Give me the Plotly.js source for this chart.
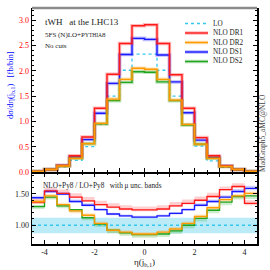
<!DOCTYPE html>
<html><head><meta charset="utf-8">
<script src="https://cdn.plot.ly/plotly-3.0.1.min.js"></script>
<style>html,body{margin:0;padding:0;background:#fff}#c{width:270px;height:270px}</style>
</head><body><div id="c"></div>
<script>
// ---- data ----
const binEdges = [-4.5,-4,-3.5,-3,-2.5,-2,-1.5,-1,-0.5,0,0.5,1,1.5,2,2.5,3,3.5,4,4.5];
const loVals  = [0.01,0.04,0.10,0.23,0.50,0.94,1.50,2.01,2.33,2.33,2.01,1.50,0.94,0.51,0.22,0.09,0.04,0.01];
const dr1Vals = [0.01,0.05,0.13,0.32,0.69,1.26,1.93,2.54,2.89,2.91,2.54,1.92,1.26,0.68,0.32,0.12,0.05,0.01];
const dr2Vals = [0.01,0.05,0.12,0.27,0.56,0.96,1.44,1.83,2.05,2.03,1.83,1.42,0.94,0.55,0.27,0.11,0.05,0.01];
const ds1Vals = [0.01,0.05,0.13,0.30,0.64,1.16,1.75,2.32,2.64,2.62,2.31,1.78,1.17,0.63,0.29,0.12,0.05,0.01];
const ds2Vals = [0.01,0.05,0.12,0.27,0.56,0.95,1.41,1.77,1.98,1.97,1.78,1.41,0.93,0.55,0.27,0.11,0.05,0.01];
const loRatio  = [1,1,1,1,1,1,1,1,1,1,1,1,1,1,1,1,1,1];
const loBandHi = [1.12,1.12,1.12,1.12,1.12,1.12,1.12,1.12,1.12,1.12,1.12,1.12,1.12,1.12,1.12,1.12,1.12,1.12];
const loBandLo = [0.87,0.87,0.87,0.87,0.87,0.87,0.87,0.87,0.87,0.87,0.87,0.87,0.87,0.87,0.87,0.87,0.87,0.87];
const dr1Ratio = [1.37,1.55,1.51,1.45,1.39,1.33,1.29,1.26,1.245,1.245,1.26,1.31,1.35,1.40,1.46,1.57,1.62,1.35];
const dr1Hi    = [1.42,1.60,1.57,1.51,1.45,1.39,1.35,1.32,1.30,1.30,1.32,1.37,1.41,1.46,1.52,1.62,1.67,1.40];
const dr1Lo    = [1.34,1.53,1.49,1.43,1.37,1.31,1.27,1.24,1.225,1.225,1.24,1.29,1.33,1.38,1.44,1.55,1.60,1.32];
const ds1Ratio = [1.44,1.54,1.50,1.38,1.32,1.25,1.18,1.15,1.13,1.13,1.15,1.19,1.25,1.32,1.38,1.45,1.54,1.59];
const ds1Hi    = [1.47,1.57,1.53,1.41,1.35,1.27,1.20,1.17,1.15,1.15,1.17,1.21,1.27,1.35,1.41,1.48,1.58,1.63];
const ds1Lo    = [1.42,1.52,1.48,1.36,1.30,1.23,1.16,1.13,1.11,1.11,1.13,1.17,1.23,1.30,1.36,1.43,1.52,1.56];
const dr2Ratio = [1.38,1.47,1.33,1.23,1.16,1.03,0.92,0.89,0.86,0.86,0.89,0.94,1.03,1.14,1.28,1.41,1.47,1.51];
const dr2Hi    = [1.41,1.50,1.36,1.26,1.19,1.06,0.95,0.92,0.89,0.89,0.92,0.97,1.06,1.17,1.31,1.44,1.50,1.54];
const dr2Lo    = [1.34,1.43,1.29,1.19,1.12,0.99,0.88,0.85,0.82,0.82,0.85,0.90,0.99,1.10,1.24,1.37,1.43,1.47];
const ds2Ratio = [1.30,1.45,1.31,1.25,1.12,1.02,0.92,0.88,0.85,0.85,0.86,0.91,1.00,1.11,1.24,1.37,1.46,1.47];
const ds2Hi    = [1.31,1.46,1.32,1.26,1.13,1.03,0.93,0.89,0.86,0.86,0.87,0.92,1.01,1.12,1.25,1.38,1.47,1.48];
const ds2Lo    = [1.26,1.41,1.27,1.21,1.08,0.97,0.87,0.83,0.80,0.80,0.81,0.86,0.95,1.06,1.19,1.32,1.41,1.42];
const seriesNames = ['LO','NLO DR1','NLO DR2','NLO DS1','NLO DS2'];
const xTickVals = [-4,-3,-2,-1,0,1,2,3,4];
const xTickText = ['-4','','-2','','0','','2','','4'];
const yTopTicks = [0,0.5,1,1.5,2,2.5,3];
const yTopText  = ['0.0','0.5','1.0','1.5','2.0','2.5','3.0'];
const yRatTicks = [1.0,1.5];
const yRatText  = ['1.00','1.50'];

const colLO='#33c8ec', colDR1='#ff1a1a', colDR2='#ff9900', colDS1='#1a1aff', colDS2='#1fa51f';
const bandLO='rgba(120,215,240,0.5)', bandDR1='rgba(255,80,80,0.28)', bandDR2='rgba(255,170,50,0.28)',
      bandDS1='rgba(90,90,255,0.28)', bandDS2='rgba(60,180,60,0.25)';
const FONT='Liberation Serif, Times New Roman, serif';
const TX='x2', TY='y2', RX='x', RY='y';

function st(v){ return v.concat([v[v.length-1]]); }
const traces=[];
function line(vals,color,width,dash,xa,ya,opacity){
  traces.push({type:'scatter',mode:'lines',x:binEdges,y:st(vals),xaxis:xa,yaxis:ya,
    line:{shape:'hv',color:color,width:width,dash:dash||'solid'},opacity:opacity==null?1:opacity,
    hoverinfo:'skip',showlegend:false});
}
function band(lo,hi,fill){
  traces.push({type:'scatter',mode:'lines',x:binEdges,y:st(lo),xaxis:RX,yaxis:RY,
    line:{shape:'hv',width:0},hoverinfo:'skip',showlegend:false});
  traces.push({type:'scatter',mode:'lines',x:binEdges,y:st(hi),xaxis:RX,yaxis:RY,fill:'tonexty',
    fillcolor:fill,line:{shape:'hv',width:0},hoverinfo:'skip',showlegend:false});
}
band(loBandLo,loBandHi,bandLO);
band(dr1Lo,dr1Hi,bandDR1); band(ds1Lo,ds1Hi,bandDS1); band(dr2Lo,dr2Hi,bandDR2); band(ds2Lo,ds2Hi,bandDS2);
line(loRatio,colLO,1.3,'dot',RX,RY);
line(ds1Ratio,colDS1,1.4,'solid',RX,RY);
line(ds2Ratio,colDS2,1.4,'solid',RX,RY);
line(dr1Ratio,colDR1,1.4,'solid',RX,RY);
line(dr2Ratio,colDR2,1.4,'solid',RX,RY);
line(loVals,colLO,1.3,'dot',TX,TY);
[[ds1Vals,colDS1],[ds2Vals,colDS2],[dr1Vals,colDR1],[dr2Vals,colDR2]].forEach(([v,c])=>{
  line(v,c,3.5,'solid',TX,TY,0.3); line(v,c,1.4,'solid',TX,TY);
});

const ML=32, MR=13, MT=8, MB=26, W=270, H=270;
const px=x=>(x-ML)/(W-ML-MR), py=y=>(H-MB-y)/(H-MT-MB);

const ann=[
  {text:'tWH&nbsp;&nbsp;&nbsp;at the LHC13',x:px(43),y:py(22),size:9},
  {text:'5FS (N)LO+P<span style="font-size:5.5px">YTHIA</span>8',x:px(43),y:py(35),size:7},
  {text:'No cuts',x:px(43),y:py(46),size:7},
  {text:'NLO+Py8 / LO+Py8&nbsp;&nbsp; with μ unc. bands',x:px(41),y:py(185),size:7.3}
].map(a=>({text:a.text,x:a.x,y:a.y,xref:'paper',yref:'paper',xanchor:'left',yanchor:'middle',
  showarrow:false,font:{family:FONT,size:a.size,color:'#222'}}));
ann.push({text:'MadGraph5_aMC@NLO',x:px(262),y:py(133),xref:'paper',yref:'paper',textangle:-90,
  showarrow:false,xanchor:'center',yanchor:'middle',font:{family:FONT,size:7.5,color:'#444'}});
ann.push({text:'dσ/dη(j<sub>b,1</sub>)&nbsp;&nbsp;&nbsp;[fb/bin]',x:px(10),y:py(85),xref:'paper',yref:'paper',textangle:-90,
  showarrow:false,xanchor:'center',yanchor:'middle',font:{family:FONT,size:8.5,color:'#0000ff'}});

const shapes=[{type:'line',xref:'paper',yref:'paper',x0:0,x1:1,y0:1,y1:1,line:{color:'#8a8a8a',width:2.5}}];
const legCols=[colLO,colDR1,colDR2,colDS1,colDS2];
seriesNames.forEach((n,i)=>{
  const yy=py(23.5+9.5*i);
  if(i>0) shapes.push({type:'line',xref:'paper',yref:'paper',x0:px(185),x1:px(208),y0:yy,y1:yy,
    line:{color:legCols[i],width:3.5},opacity:0.3});
  shapes.push({type:'line',xref:'paper',yref:'paper',x0:px(185),x1:px(208),y0:yy,y1:yy,
    line:{color:legCols[i],width:1.4,dash:i==0?'dot':'solid'}});
  ann.push({text:n,x:px(211),y:yy,xref:'paper',yref:'paper',xanchor:'left',yanchor:'middle',
    showarrow:false,font:{family:FONT,size:7.2,color:'#222'}});
});

const tickFont={family:FONT,size:8,color:'#222'};
const layout={
  width:W,height:H,margin:{l:ML,r:MR,t:MT,b:MB},paper_bgcolor:'#fff',plot_bgcolor:'#fff',
  showlegend:false,font:{family:FONT},
  xaxis:{domain:[0,1],anchor:'y',range:[-4.5,4.5],tickvals:xTickVals,ticktext:xTickText,ticks:'inside',ticklen:4,
    tickcolor:'#000',showline:true,linecolor:'#000',linewidth:1.5,mirror:'allticks',showgrid:false,zeroline:false,
    tickfont:tickFont,
    minor:{ticks:'inside',dtick:0.5,ticklen:2,tickcolor:'#000',showgrid:false},
    title:{text:'η(j<sub>b,1</sub>)',font:{family:FONT,size:9,color:'#222'},standoff:2}},
  yaxis:{domain:[0,py(173)],anchor:'x',range:[0.70,1.835],tickvals:yRatTicks,ticktext:yRatText,ticks:'inside',ticklen:4,
    tickcolor:'#000',showline:true,linecolor:'#000',linewidth:1.5,mirror:'allticks',showgrid:false,zeroline:false,
    tickfont:tickFont,
    minor:{ticks:'inside',dtick:0.1,tick0:0,ticklen:2,tickcolor:'#000',showgrid:false}},
  xaxis2:{domain:[0,1],anchor:'y2',range:[-4.5,4.5],showticklabels:false,ticks:'inside',tickvals:xTickVals,
    ticklen:4,tickcolor:'#000',showline:true,linecolor:'#000',linewidth:1.8,mirror:false,showgrid:false,zeroline:false,
    minor:{ticks:'inside',dtick:0.5,ticklen:2,tickcolor:'#000',showgrid:false}},
  yaxis2:{domain:[py(172),1],anchor:'x2',range:[0,3.24],tickvals:yTopTicks,ticktext:yTopText,ticks:'inside',ticklen:4,
    tickcolor:'#000',showline:true,linecolor:'#000',linewidth:1.5,mirror:'allticks',showgrid:false,zeroline:false,
    tickfont:{family:FONT,size:8,color:'#ff0000'},
    minor:{ticks:'inside',dtick:0.1,tick0:0,ticklen:2,tickcolor:'#000',showgrid:false}},
  annotations:ann,shapes:shapes
};
Plotly.newPlot('c',traces,layout,{staticPlot:true,displayModeBar:false});
</script></body></html>
